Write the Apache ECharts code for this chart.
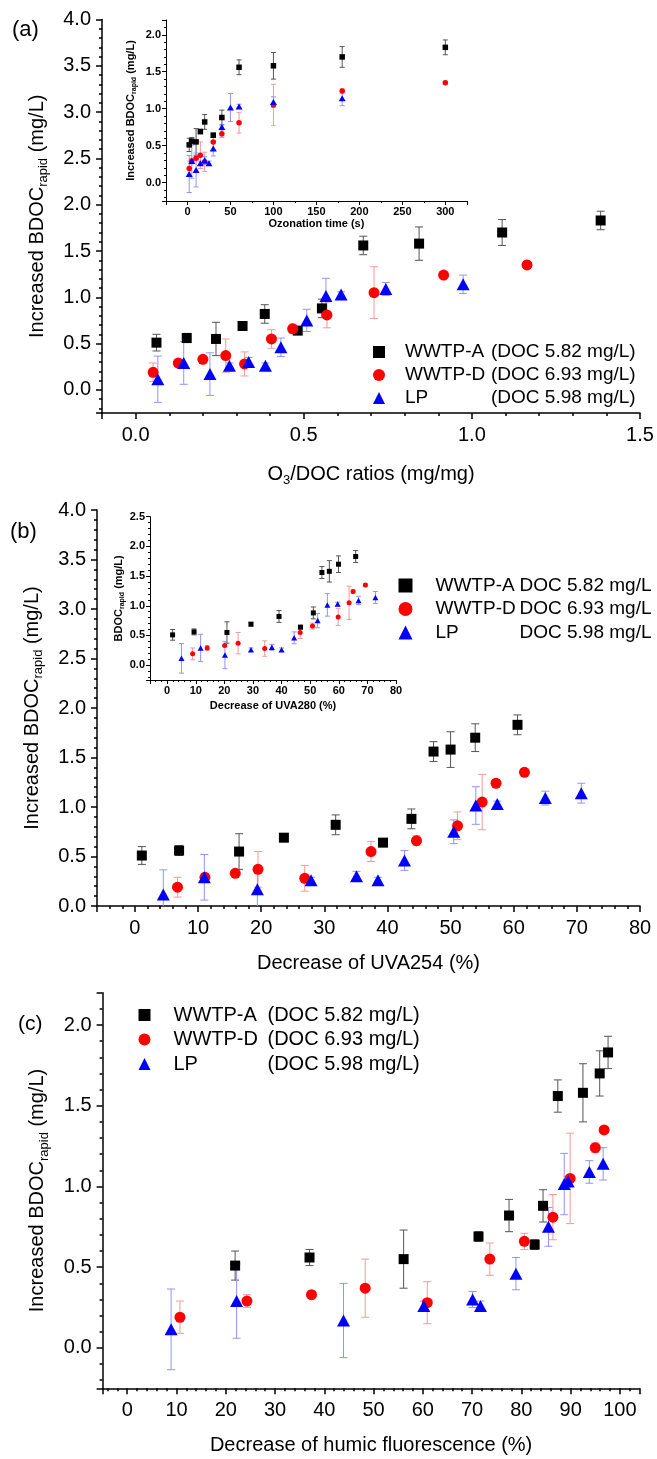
<!DOCTYPE html>
<html><head><meta charset="utf-8">
<script src="https://cdn.jsdelivr.net/npm/echarts@6/dist/echarts.min.js"></script>
<style>html,body{margin:0;padding:0;background:#fff}#c{width:657px;height:1459px}</style>
</head><body><div id="c"></div>
<script>
// ---------------- DATA ----------------
const sampleNames = ['WWTP-A', 'WWTP-D', 'LP'];
const docTexts = ['DOC 5.82 mg/L', 'DOC 6.93 mg/L', 'DOC 5.98 mg/L'];

// WWTP-A
const aTime   = [2, 5, 10, 15, 20, 30, 40, 60, 100, 180, 300];
const aBdoc   = [0.51, 0.56, 0.55, 0.69, 0.82, 0.64, 0.88, 1.56, 1.58, 1.70, 1.83];
const aErr    = [0.09, 0.05, 0.18, 0.03, 0.10, 0.03, 0.10, 0.10, 0.18, 0.14, 0.10];
const aO3     = [0.062, 0.152, 0.239, 0.318, 0.384, 0.482, 0.554, 0.677, 0.843, 1.09, 1.383];
const aUva254 = [1.1, 7.0, 16.5, 23.6, 31.8, 39.3, 43.8, 47.3, 50.0, 53.9, 60.6];
const aUva280 = [1.9, 9.4, 20.9, 29.3, 39.1, 46.6, 51.1, 54.1, 56.7, 59.9, 65.9];
const aHumic  = [21.9, 37.0, 56.1, 71.3, 77.5, 82.7, 84.4, 87.4, 92.5, 95.9, 97.6];

// WWTP-D
const dTime   = [2, 5, 10, 15, 20, 30, 40, 60, 100, 180, 300];
const dBdoc   = [0.19, 0.29, 0.33, 0.37, 0.28, 0.55, 0.66, 0.81, 1.05, 1.24, 1.35];
const dErr    = [0.10, 0.04, 0.02, 0.18, 0.13, 0.10, 0.05, 0.14, 0.28, 0.03, 0.02];
const dO3     = [0.052, 0.127, 0.200, 0.268, 0.324, 0.404, 0.467, 0.569, 0.709, 0.916, 1.164];
const dUva254 = [6.75, 11.1, 15.9, 19.5, 26.9, 37.4, 44.6, 51.1, 55.0, 57.2, 61.7];
const dUva280 = [8.9, 14.0, 20.1, 24.8, 34.1, 46.5, 50.8, 59.8, 63.6, 65.0, 69.3];
const dHumic  = [10.7, 24.3, 37.4, 48.3, 60.9, 73.6, 80.6, 86.4, 89.9, 95.0, 96.8];

// LP
const pTime   = [2, 5, 10, 15, 20, 25, 30, 40, 50, 60, 100, 180];
const pBdoc   = [0.115, 0.29, 0.17, 0.26, 0.30, 0.26, 0.46, 0.75, 1.015, 1.03, 1.09, 1.14];
const pErr    = [0.25, 0.23, 0.23, 0.03, 0.05, 0.03, 0.10, 0.12, 0.19, 0.03, 0.07, 0.10];
const pO3     = [0.066, 0.143, 0.221, 0.279, 0.336, 0.386, 0.432, 0.509, 0.566, 0.611, 0.744, 0.974];
const pUva254 = [4.5, 11.0, 19.4, 27.9, 35.1, 38.5, 42.7, 50.5, 54.0, 57.4, 65.0, 70.7];
const pUva280 = [5.0, 11.7, 20.2, 29.3, 36.6, 40.0, 44.4, 52.6, 56.0, 59.6, 66.9, 72.8];
const pHumic  = [8.9, 22.2, 43.9, 60.2, 70.1, 71.7, 78.9, 85.5, 88.7, 89.5, 93.8, 96.6];

// axis tick settings (min, max, major step)
const axA_x = [-0.1, 1.5, 0.5],  axA_y = [-0.25, 4.0, 0.5];
const axAi_x = [-25, 325, 50],   axAi_y = [-0.25, 2.2, 0.5];
const axB_x = [-6, 80, 10],      axB_y = [0, 4.0, 0.5];
const axBi_x = [-6, 80, 10],     axBi_y = [-0.25, 2.5, 0.5];
const axC_x = [-5, 104, 10],     axC_y = [-0.25, 2.2, 0.5];

// ---------------- CHART ----------------
const FONT = 'Liberation Sans, Arial, sans-serif';
const COLORS = ['#000000', '#ff0000', '#0000ff'];
const ERRC = ['#555555', '#f39a9a', '#9393ff'];
const SYM = ['rect', 'circle', 'triangle'];

function fmtTick(step, digits) {
  return function (v) {
    const k = v / step;
    if (Math.abs(k - Math.round(k)) > 1e-6) return '';
    return digits ? v.toFixed(digits) : String(Math.round(v));
  };
}

function axis(gi, ax, minorSplit, digits, name, nameGap, inset, isY) {
  const fs = inset ? 11 : 20;
  const fw = inset ? 'bold' : 'normal';
  const lw = inset ? 1 : 1.5;
  return {
    type: 'value', gridIndex: gi, min: ax[0], max: ax[1],
    minInterval: ax[2], maxInterval: ax[2], splitNumber: Math.round((ax[1] - ax[0]) / ax[2]),
    axisLine: { show: true, onZero: false, lineStyle: { color: '#000', width: lw } },
    axisTick: { show: true, inside: false, length: inset ? 4 : 6, lineStyle: { color: '#000', width: lw } },
    minorTick: { show: true, splitNumber: minorSplit, length: inset ? 2 : 3, lineStyle: { color: '#000', width: lw } },
    splitLine: { show: false }, minorSplitLine: { show: false },
    axisLabel: { formatter: fmtTick(ax[2], digits), fontSize: fs, fontWeight: fw, fontFamily: FONT,
                 color: '#000', margin: inset ? 5 : (isY ? 11 : 12) },
    name: name, nameLocation: 'middle', nameGap: nameGap,
    nameTextStyle: {
      fontSize: fs, fontWeight: fw, fontFamily: FONT, color: '#000',
      rich: {
        m: { fontSize: fs, fontWeight: fw, fontFamily: FONT, color: '#000', lineHeight: inset ? 14 : 26 },
        s: { fontSize: inset ? 7 : 13, fontWeight: fw, fontFamily: FONT, color: '#000',
             lineHeight: inset ? 7 : 13, verticalAlign: 'bottom' }
      }
    }
  };
}

function zip(xs, ys) { return xs.map((x, i) => [x, ys[i]]); }

function scat(name, gi, xs, ys, k, size) {
  return {
    type: 'scatter', name: name, xAxisIndex: gi, yAxisIndex: gi,
    data: zip(xs, ys), symbol: SYM[k], symbolSize: size,
    itemStyle: { color: COLORS[k], opacity: 1 }, z: 5, silent: true
  };
}

function errs(gi, xs, ys, es, k, cap) {
  return {
    type: 'custom', xAxisIndex: gi, yAxisIndex: gi, clip: true, z: 2, silent: true,
    data: xs.map((x, i) => [x, ys[i] - es[i], ys[i] + es[i]]),
    encode: { x: 0, y: [1, 2] },
    renderItem: function (params, api) {
      const lo = api.coord([api.value(0), api.value(1)]);
      const hi = api.coord([api.value(0), api.value(2)]);
      const st = { stroke: ERRC[k], lineWidth: 1, fill: null };
      return {
        type: 'group', children: [
          { type: 'line', shape: { x1: lo[0], y1: lo[1], x2: hi[0], y2: hi[1] }, style: st },
          { type: 'line', shape: { x1: lo[0] - cap, y1: lo[1], x2: lo[0] + cap, y2: lo[1] }, style: st },
          { type: 'line', shape: { x1: hi[0] - cap, y1: hi[1], x2: hi[0] + cap, y2: hi[1] }, style: st }
        ]
      };
    }
  };
}

function legend(prefix, left, top, iconSize, gap, fs, spacer, nameW, paren) {
  return {
    orient: 'vertical', left: left, top: top, padding: 0, itemGap: gap,
    itemWidth: iconSize, itemHeight: iconSize, selectedMode: false,
    data: sampleNames.map(n => prefix + n),
    formatter: function (n) {
      const i = sampleNames.indexOf(n.slice(prefix.length));
      const d = paren ? '(' + docTexts[i] + ')' : docTexts[i];
      return '{s| }{n|' + sampleNames[i] + '}{d|' + d + '}';
    },
    textStyle: {
      fontSize: fs, fontFamily: FONT, color: '#000', lineHeight: fs + 1,
      rich: {
        s: { width: spacer, fontSize: fs, lineHeight: fs + 1 },
        n: { width: nameW, fontSize: fs, fontFamily: FONT, color: '#000', lineHeight: fs + 1 },
        d: { fontSize: fs, fontFamily: FONT, color: '#000', lineHeight: fs + 1 }
      }
    }
  };
}

const series = [];
const sets = [
  // [grid, xA, xD, xP, sizes, cap, prefix]
  [0, aO3, dO3, pO3, [10, 11, [13, 12]], 4, 'a:'],
  [1, aTime, dTime, pTime, [5.5, 5.5, [7, 6]], 2.5, 'ai:'],
  [2, aUva254, dUva254, pUva254, [10, 11, [13, 12]], 4, 'b:'],
  [3, aUva280, dUva280, pUva280, [5, 5, [6, 5.5]], 2.5, 'bi:'],
  [4, aHumic, dHumic, pHumic, [10, 11, [13, 12]], 4, 'c:']
];
const ys = [aBdoc, dBdoc, pBdoc], es = [aErr, dErr, pErr];
sets.forEach(s => {
  const xs = [s[1], s[2], s[3]];
  for (let k = 0; k < 3; k++) series.push(errs(s[0], xs[k], ys[k], es[k], k, s[5]));
  for (let k = 0; k < 3; k++) series.push(scat(s[6] + sampleNames[k], s[0], xs[k], ys[k], k, s[4][k]));
});

const bdocName = '{m|Increased BDOC}{s|rapid}{m| (mg/L)}';
const option = {
  animation: false,
  backgroundColor: '#fff',
  title: [
    { text: '(a)', left: 12, top: 19, padding: 0, textStyle: { fontSize: 22, fontWeight: 'normal', fontFamily: FONT, color: '#000' } },
    { text: '(b)', left: 10, top: 521, padding: 0, textStyle: { fontSize: 22, fontWeight: 'normal', fontFamily: FONT, color: '#000' } },
    { text: '(c)', left: 18, top: 1014, padding: 0, textStyle: { fontSize: 21, fontWeight: 'normal', fontFamily: FONT, color: '#000' } }
  ],
  grid: [
    { left: 102, top: 19.6, width: 538, height: 393.4 },
    { left: 166, top: 20, width: 300.8, height: 181 },
    { left: 97, top: 510, width: 543, height: 396 },
    { left: 150, top: 516.7, width: 246, height: 163.3 },
    { left: 102.6, top: 992.7, width: 537, height: 395.6 }
  ],
  xAxis: [
    axis(0, axA_x, 5, 1, '{m|O}{s|3}{m|/DOC ratios (mg/mg)}', 48, false, false),
    axis(1, axAi_x, 2, 0, 'Ozonation time (s)', 17, true, false),
    axis(2, axB_x, 5, 0, 'Decrease of UVA254 (%)', 47, false, false),
    axis(3, axBi_x, 5, 0, 'Decrease of UVA280 (%)', 20, true, false),
    axis(4, axC_x, 5, 0, 'Decrease of humic fluorescence (%)', 47, false, false)
  ],
  yAxis: [
    axis(0, axA_y, 5, 1, bdocName, 52, false, true),
    axis(1, axAi_y, 5, 1, bdocName, 28, true, true),
    axis(2, axB_y, 5, 1, bdocName, 52, false, true),
    axis(3, axBi_y, 5, 1, '{m|BDOC}{s|rapid}{m| (mg/L)}', 24, true, true),
    axis(4, axC_y, 5, 1, bdocName, 52, false, true)
  ],
  legend: [
    legend('a:', 373, 342, 12, 3, 19, 15, 86, true),
    legend('b:', 398.5, 575.5, 14, 3.5, 19, 18, 84, false),
    legend('c:', 138.5, 1004.5, 12, 3.5, 20, 18, 94, true)
  ],
  series: series
};

const chart = echarts.init(document.getElementById('c'), null, { renderer: 'canvas' });
chart.setOption(option);
</script>
</body></html>
